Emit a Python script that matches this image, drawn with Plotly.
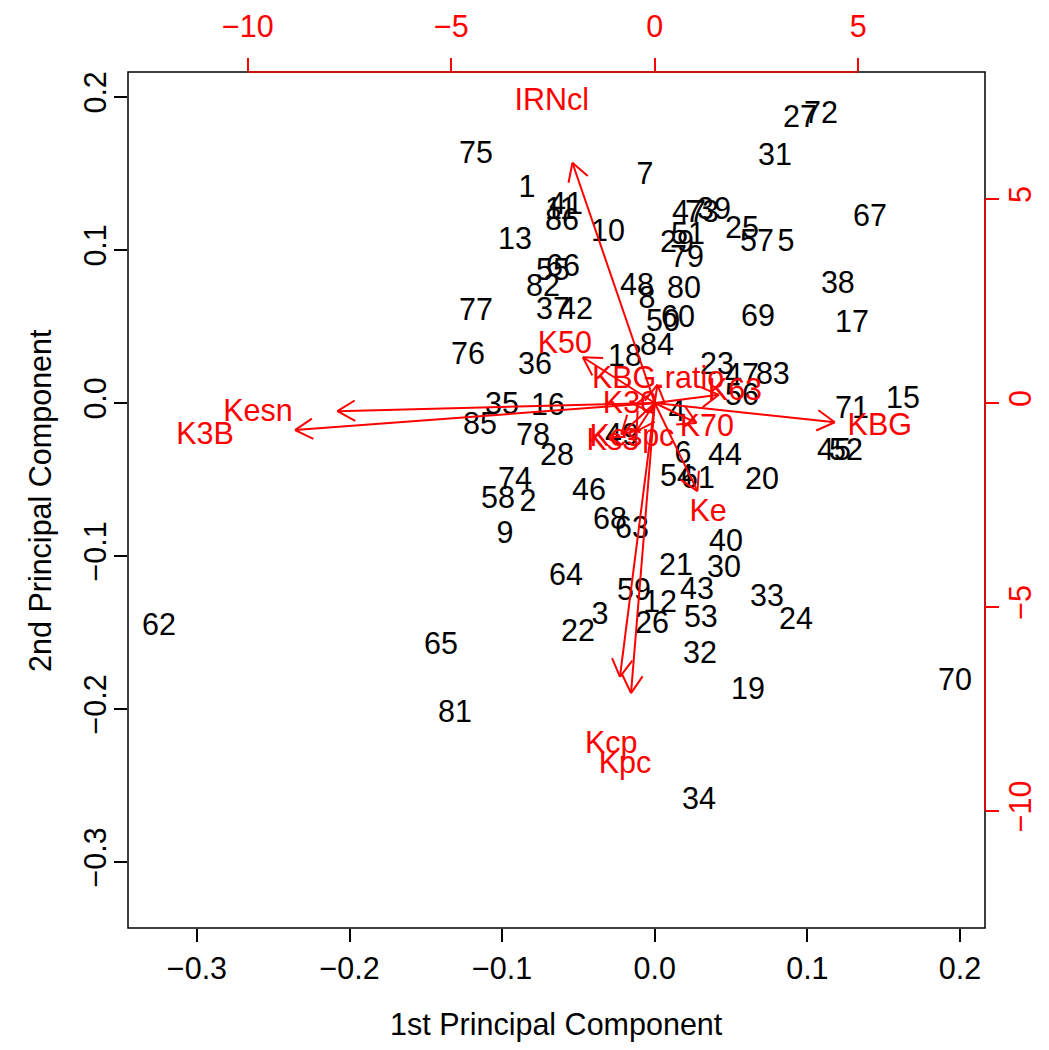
import math
import plotly.graph_objects as go

# ---- observation scores (1st / 2nd principal component) ----
obs_labels = ["75", "7", "27", "72", "31", "1", "41", "11", "86", "10", "13",
              "47", "73", "39", "25", "57", "5", "67", "29", "51", "79",
              "66", "55", "82", "37", "42", "48", "8", "80", "50", "60",
              "69", "38", "17", "77", "76", "36", "18", "84", "23", "47",
              "83", "56", "15", "71", "45", "52", "35", "16", "85", "78",
              "28", "49", "4", "6", "44", "54", "61", "20", "74", "58",
              "2", "46", "9", "68", "63", "40", "21", "30", "43", "33",
              "24", "64", "59", "12", "3", "22", "26", "53", "62", "65",
              "32", "19", "70", "81", "34"]
pc1 = [-0.1172, -0.0064, 0.0952, 0.1089, 0.0788, -0.0837, -0.0582, -0.0615, -0.0608, -0.0307, -0.0916,
       0.0224, 0.0309, 0.0388, 0.0571, 0.0670, 0.0860, 0.1410, 0.0146, 0.0218, 0.0211,
       -0.0602, -0.0667, -0.0733, -0.0667, -0.0516, -0.0117, -0.0051, 0.0191, 0.0054, 0.0152,
       0.0676, 0.1200, 0.1292, -0.1172, -0.1224, -0.0785, -0.0195, 0.0014, 0.0408, 0.0571,
       0.0774, 0.0571, 0.1627, 0.1292, 0.1174, 0.1253, -0.1001, -0.0700, -0.1145, -0.0798,
       -0.0641, -0.0215, 0.0145, 0.0185, 0.0460, 0.0145, 0.0283, 0.0702, -0.0916, -0.1028,
       -0.0831, -0.0431, -0.0982, -0.0294, -0.0149, 0.0467, 0.0139, 0.0453, 0.0277, 0.0735,
       0.0925, -0.0582, -0.0136, 0.0034, -0.0359, -0.0503, -0.0018, 0.0302, -0.3249, -0.1401,
       0.0296, 0.0611, 0.1967, -0.1309, 0.0290]
pc2 = [0.1621, 0.1484, 0.1856, 0.1882, 0.1608, 0.1399, 0.1288, 0.1255, 0.1183, 0.1111, 0.1059,
       0.1235, 0.1235, 0.1255, 0.1131, 0.1046, 0.1046, 0.1209, 0.1039, 0.1092, 0.0941,
       0.0882, 0.0856, 0.0752, 0.0601, 0.0601, 0.0758, 0.0673, 0.0739, 0.0523, 0.0549,
       0.0556, 0.0771, 0.0516, 0.0595, 0.0307, 0.0242, 0.0294, 0.0366, 0.0242, 0.0170,
       0.0176, 0.0039, 0.0020, -0.0046, -0.0320, -0.0320, -0.0020, -0.0026, -0.0150, -0.0222,
       -0.0353, -0.0222, -0.0065, -0.0340, -0.0353, -0.0490, -0.0503, -0.0510, -0.0510, -0.0634,
       -0.0654, -0.0582, -0.0863, -0.0771, -0.0830, -0.0915, -0.1072, -0.1085, -0.1229, -0.1275,
       -0.1425, -0.1137, -0.1235, -0.1314, -0.1392, -0.1503, -0.1451, -0.1412, -0.1464, -0.1588,
       -0.1647, -0.1882, -0.1824, -0.2033, -0.2601]

# ---- variable loadings (top / right axis units) ----
var_names = ["IRNcl", "Kesn", "K3B", "K50", "KBG.ratio", "K30", "K63", "KBG",
             "K70", "Ke", "Kcp", "Kpc", "Kespc", "Ks3"]
var_x = [-2.53, -9.75, -11.05, -2.21, 0.08, -0.61, 1.97, 5.53, 1.28, 1.31, -1.07, -0.73, -0.56, -1.03]
var_y = [7.36, -0.25, -0.83, 1.40, 0.56, -0.05, 0.25, -0.59, -0.61, -2.70, -8.39, -8.89, -0.86, -0.96]

# ---- axes ----
x_ticks = [-0.3, -0.2, -0.1, 0.0, 0.1, 0.2]
y_ticks = [-0.3, -0.2, -0.1, 0.0, 0.1, 0.2]
top_ticks = [-10, -5, 0, 5]
right_ticks = [-10, -5, 0, 5]
X_RANGE = [-0.3452, 0.2164]
Y_RANGE = [-0.3431, 0.2163]
SCALE = 37.5  # secondary-axis units per primary-axis unit

FONT = "Liberation Sans, Arial, Helvetica, sans-serif"
FS = 30.5
RED = "#FF0000"

fig = go.Figure()

# observation labels
fig.add_trace(go.Scatter(
    x=pc1, y=pc2, text=obs_labels, mode="text",
    textposition="middle center",
    textfont=dict(family=FONT, size=FS, color="black"),
    showlegend=False, hoverinfo="text", cliponaxis=False,
))

# arrows: shaft to 0.8 * loading, open head (30 degrees)
head_len = 0.5
ax_, ay_ = [], []
for vx, vy in zip(var_x, var_y):
    tx, ty = 0.8 * vx, 0.8 * vy
    ang = math.atan2(ty, tx)
    ax_ += [0, tx, None]
    ay_ += [0, ty, None]
    for d in (math.radians(30), -math.radians(30)):
        ax_ += [tx, tx - head_len * math.cos(ang + d), None]
        ay_ += [ty, ty - head_len * math.sin(ang + d), None]

fig.add_trace(go.Scatter(
    x=ax_, y=ay_, mode="lines", line=dict(color=RED, width=2),
    xaxis="x2", yaxis="y2", showlegend=False, hoverinfo="skip",
))

fig.add_trace(go.Scatter(
    x=var_x, y=var_y, text=var_names, mode="text",
    textposition="middle center",
    textfont=dict(family=FONT, size=FS, color=RED),
    xaxis="x2", yaxis="y2", showlegend=False, hoverinfo="text", cliponaxis=False,
))

axis_common = dict(showgrid=False, zeroline=False, showline=False, ticks="outside",
                   ticklen=13, tickwidth=1.5, automargin=False)

fig.update_layout(
    width=1041, height=1042,
    margin=dict(l=120, r=64, t=64, b=122, autoexpand=False),
    paper_bgcolor="white", plot_bgcolor="white",
    font=dict(family=FONT, size=FS, color="black"),
    xaxis=dict(range=X_RANGE, tickvals=x_ticks, tickformat=".1f", tickcolor="black",
               tickfont=dict(size=FS, color="black"), ticklabelstandoff=0, **axis_common),
    yaxis=dict(range=Y_RANGE, tickvals=y_ticks, tickformat=".1f", tickcolor="black",
               tickangle=-90, tickfont=dict(size=FS, color="black"), ticklabelstandoff=-4,
               **axis_common),
    xaxis2=dict(range=[r * SCALE for r in X_RANGE], overlaying="x", side="top", anchor="y",
                tickvals=top_ticks, tickcolor=RED, tickfont=dict(size=FS, color=RED),
                ticklabelstandoff=9, **axis_common),
    yaxis2=dict(range=[r * SCALE for r in Y_RANGE], overlaying="y", side="right", anchor="x",
                tickvals=right_ticks, tickcolor=RED, tickangle=-90,
                tickfont=dict(size=FS, color=RED), ticklabelstandoff=-5, **axis_common),
    shapes=[
        dict(type="rect", xref="paper", yref="paper", x0=0, x1=1, y0=0, y1=1,
             line=dict(color="black", width=1.5), layer="above"),
        dict(type="line", xref="x2", yref="paper", x0=top_ticks[0], x1=top_ticks[-1],
             y0=1, y1=1, line=dict(color=RED, width=1.5), layer="above"),
        dict(type="line", xref="paper", yref="y2", x0=1, x1=1, y0=right_ticks[0],
             y1=right_ticks[-1], line=dict(color=RED, width=1.5), layer="above"),
    ],
    annotations=[
        dict(text="1st Principal Component", xref="paper", yref="paper", x=0.5, y=-0.1133,
             xanchor="center", yanchor="middle", showarrow=False,
             font=dict(size=FS, color="black", family=FONT)),
        dict(text="2nd Principal Component", xref="paper", yref="paper", x=-0.1027, y=0.5,
             xanchor="center", yanchor="middle", textangle=-90, showarrow=False,
             font=dict(size=FS, color="black", family=FONT)),
    ],
)

fig.write_html("out.html")
